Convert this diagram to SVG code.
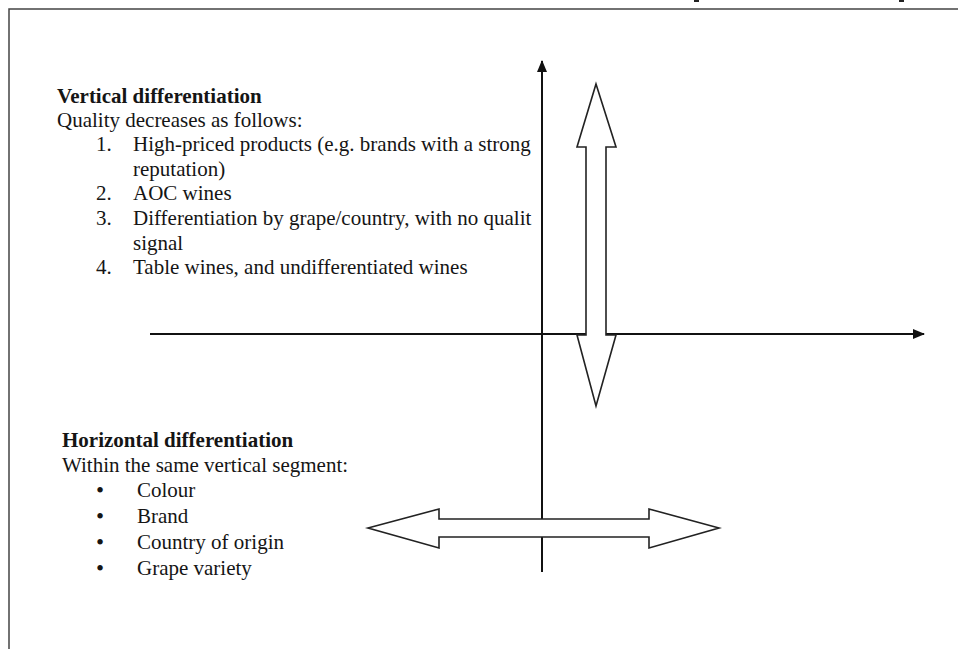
<svg xmlns="http://www.w3.org/2000/svg" width="958" height="649" viewBox="0 0 958 649">
<defs>
<marker id="ah" viewBox="0 0 12 10" refX="11" refY="5" markerWidth="12" markerHeight="10" markerUnits="userSpaceOnUse" orient="auto">
<path d="M0,0 L12,5 L0,10 Z" fill="#111"/>
</marker>
<style>
text{font-family:"Liberation Serif","Times New Roman",serif;font-size:21px;fill:#151515}
.b{font-weight:bold}
.bul{font-size:23px}
.axis{stroke:#111;stroke-width:2;fill:none}
.dbl{fill:#fff;stroke:#222;stroke-width:1.6;stroke-linejoin:miter}
.frame{stroke:#444;stroke-width:1.5;fill:none}
</style>
</defs>
<rect x="0" y="0" width="958" height="649" fill="#fff"/>
<g id="frame">
<path class="frame" d="M9,649 L9,9 L958,9"/>
<rect x="694" y="0" width="5" height="2" fill="#222"/>
<rect x="899" y="0" width="5" height="2" fill="#222"/>
</g>
<g id="connectors">
<line class="axis" x1="542" y1="572" x2="542" y2="61" marker-end="url(#ah)"/>
<line class="axis" x1="150" y1="334" x2="924" y2="334" marker-end="url(#ah)"/>
</g>
<g id="vertical-arrow">
<polygon class="dbl" points="596,84 616,147 606,147 606,335 616,335 596,406 577,335 586,335 586,147 577,147"/>
</g>
<g id="horizontal-arrow">
<polygon class="dbl" points="368,528 439,509 439,519 649,519 649,509 719,528 649,548 649,537 439,537 439,548"/>
</g>
<g id="vertical-text">
<text class="b" x="57" y="103">Vertical differentiation</text>
<text x="57" y="127">Quality decreases as follows:</text>
<text x="96" y="151">1.</text>
<text x="133" y="151">High-priced products (e.g. brands with a strong</text>
<text x="133" y="176">reputation)</text>
<text x="96" y="200">2.</text>
<text x="133" y="200">AOC wines</text>
<text x="96" y="225">3.</text>
<text x="133" y="225">Differentiation by grape/country, with no qualit</text>
<text x="133" y="250">signal</text>
<text x="96" y="274">4.</text>
<text x="133" y="274">Table wines, and undifferentiated wines</text>
</g>
<g id="horizontal-text">
<text class="b" x="62" y="447">Horizontal differentiation</text>
<text x="62" y="472">Within the same vertical segment:</text>
<text class="bul" x="96" y="498">•</text>
<text x="137" y="497">Colour</text>
<text class="bul" x="96" y="524">•</text>
<text x="137" y="523">Brand</text>
<text class="bul" x="96" y="550">•</text>
<text x="137" y="549">Country of origin</text>
<text class="bul" x="96" y="576">•</text>
<text x="137" y="575">Grape variety</text>
</g>
</svg>
